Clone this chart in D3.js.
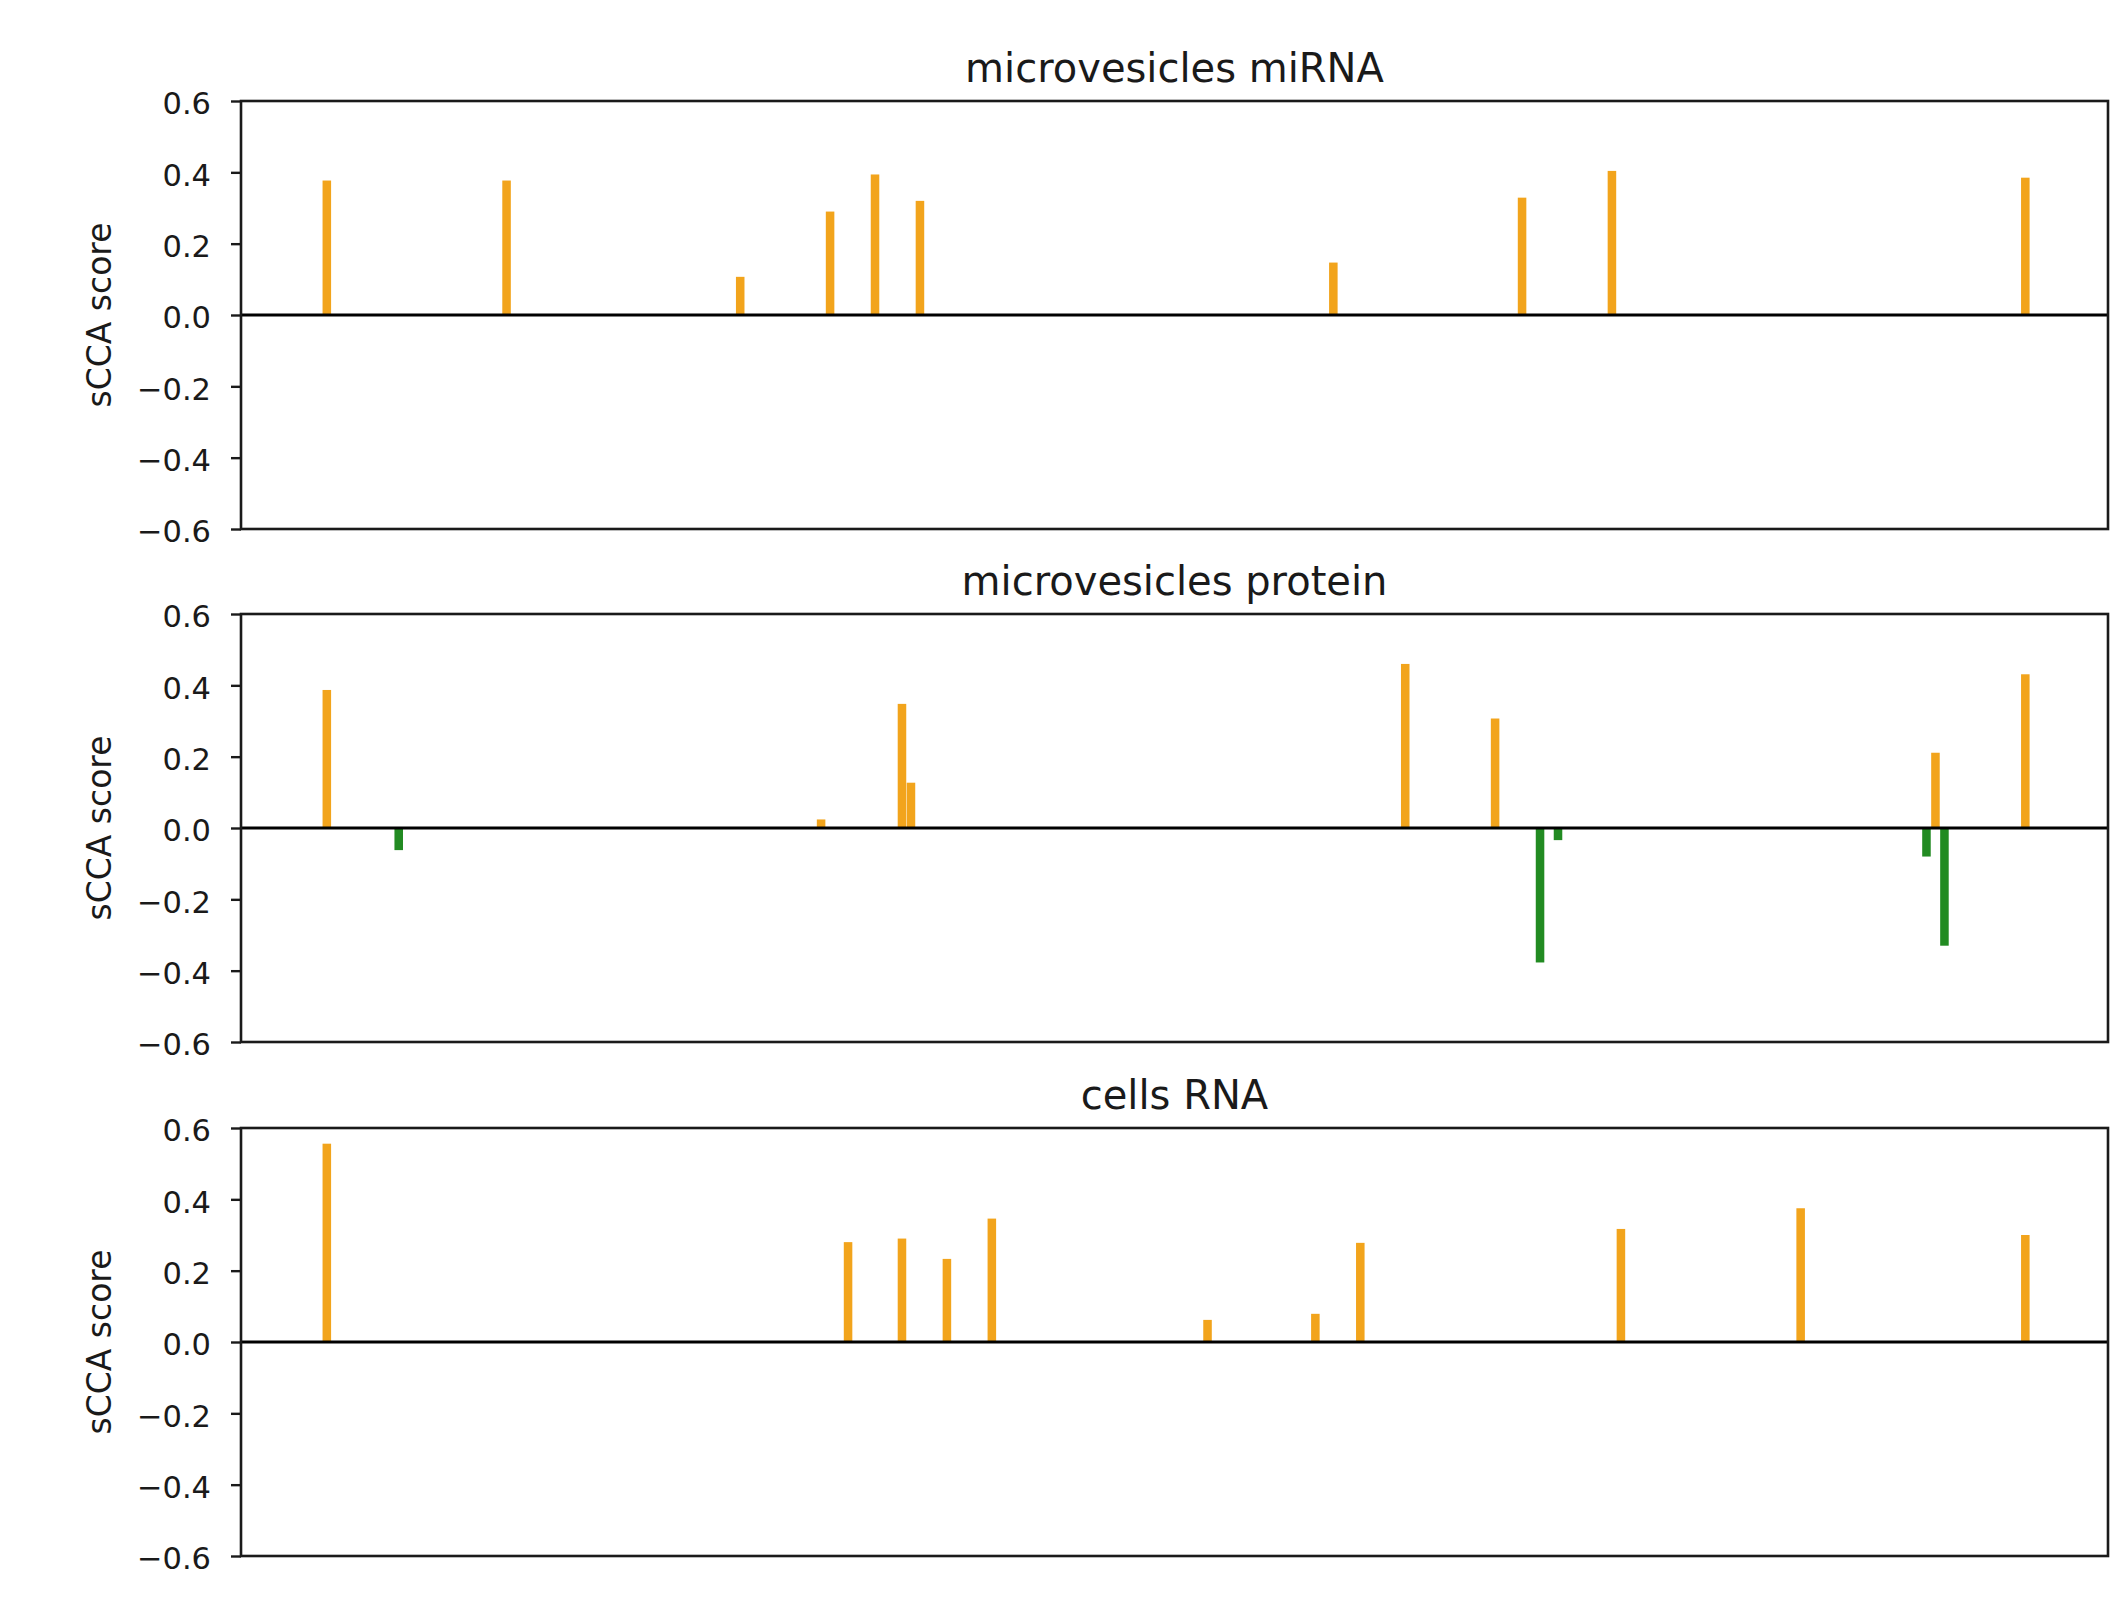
<!DOCTYPE html>
<html>
<head>
<meta charset="utf-8">
<script src="https://cdn.jsdelivr.net/npm/d3@7"></script>
<style>
  html, body { margin: 0; padding: 0; background: #fff; }
  svg { display: block; }
  text { font-family: "DejaVu Sans", sans-serif; fill: #1a1a1a; }
</style>
</head>
<body>
<svg id="chart" width="2111" height="1623"></svg>
<script>
// ---------- data ----------
const panelTitles = ["microvesicles miRNA", "microvesicles protein", "cells RNA"];
const yLabel = "sCCA score";
const yTicks = [-0.6, -0.4, -0.2, 0.0, 0.2, 0.4, 0.6];
const featureCount = 190;

const miRNAIndex  = [0, 20, 46, 56, 61, 66, 112, 133, 143, 189];
const miRNAValues = [0.377, 0.377, 0.107, 0.29, 0.394, 0.32, 0.147, 0.329, 0.404, 0.385];

const proteinIndex  = [0, 8, 55, 64, 65, 120, 130, 135, 137, 178, 179, 180, 189];
const proteinValues = [0.387, -0.062, 0.024, 0.348, 0.127, 0.46, 0.307, -0.377, -0.034, -0.08, 0.211, -0.33, 0.431];

const cellsIndex  = [0, 58, 64, 69, 74, 98, 110, 115, 144, 164, 189];
const cellsValues = [0.556, 0.28, 0.29, 0.233, 0.346, 0.062, 0.079, 0.278, 0.317, 0.375, 0.30];

// ---------- layout ----------
const svg = d3.select("#chart");
const W = 2111, H = 1623;
svg.append("rect").attr("width", W).attr("height", H).attr("fill", "#fff");

const left = 241, right = 2108;
const panelTops = [101, 614, 1128];
const panelH = 428;
const posColor = "#f2a41c", negColor = "#228b22";

const x = d3.scaleLinear().domain([-9.55, featureCount - 1 + 9.2]).range([left, right]);
const unit = x(1) - x(0);
const barW = unit * 0.95;

const panels = [
  {title: panelTitles[0], idx: miRNAIndex, vals: miRNAValues},
  {title: panelTitles[1], idx: proteinIndex, vals: proteinValues},
  {title: panelTitles[2], idx: cellsIndex, vals: cellsValues}
];

const fmt = d3.format(".1f");

panels.forEach((p, i) => {
  const top = panelTops[i], bottom = top + panelH;
  const y = d3.scaleLinear().domain([-0.6, 0.6]).range([bottom, top]);
  const g = svg.append("g");

  const data = p.idx.map((k, j) => ({k: k, v: p.vals[j]}));

  // bars
  g.selectAll("rect.bar").data(data).enter().append("rect")
    .attr("class", "bar")
    .attr("x", d => x(d.k) - barW / 2)
    .attr("width", barW)
    .attr("y", d => y(Math.max(0, d.v)))
    .attr("height", d => Math.abs(y(d.v) - y(0)))
    .attr("fill", d => d.v >= 0 ? posColor : negColor);

  // zero line
  g.append("line")
    .attr("x1", left).attr("x2", right)
    .attr("y1", y(0)).attr("y2", y(0))
    .attr("stroke", "#000").attr("stroke-width", 3);

  // y axis
  const ax = g.append("g")
    .attr("transform", `translate(${left},0)`)
    .call(d3.axisLeft(y).tickValues(yTicks).tickFormat(fmt).tickSize(10).tickPadding(20));
  ax.select(".domain").remove();
  ax.selectAll(".tick line").attr("stroke", "#1a1a1a").attr("stroke-width", 2.4);
  ax.selectAll(".tick text")
    .attr("font-family", "DejaVu Sans")
    .attr("font-size", 30.5)
    .attr("fill", "#1a1a1a")
    .attr("dy", "0.42em");

  // frame
  g.append("rect")
    .attr("x", left).attr("y", top)
    .attr("width", right - left).attr("height", panelH)
    .attr("fill", "none").attr("stroke", "#1a1a1a").attr("stroke-width", 2.6);

  // title
  g.append("text")
    .attr("x", (left + right) / 2)
    .attr("y", top - 19)
    .attr("text-anchor", "middle")
    .attr("font-size", 40)
    .text(p.title);

  // y label
  g.append("text")
    .attr("transform", `translate(111,${(top + bottom) / 2}) rotate(-90)`)
    .attr("text-anchor", "middle")
    .attr("font-size", 33)
    .text(yLabel);
});
</script>
</body>
</html>
